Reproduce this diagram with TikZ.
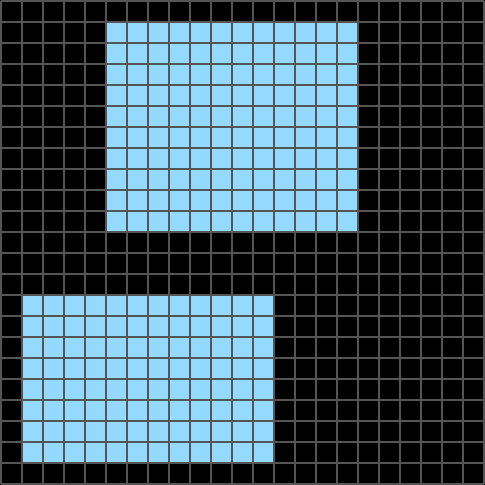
\documentclass[tikz,border=0pt]{standalone}
\usepackage{tikz}
\usepackage{xcolor}
\definecolor{cellblue}{RGB}{148,217,255}
\definecolor{gridgrey}{RGB}{85,85,85}

\begin{document}
\begin{tikzpicture}[x=1cm, y=1cm,
  gridline/.style={draw=gridgrey, line width=0.095cm},
  bluearea/.style={fill=cellblue}]
% Background
\fill[black] (-0.048,-0.048) rectangle (23.048,23.048);
\useasboundingbox (-0.048,-0.048) rectangle (23.048,23.048);

% Upper blue rectangle
\fill[bluearea] (5,12) rectangle (17,22);

% Lower blue rectangle
\fill[bluearea] (1,1) rectangle (13,9);

% Grid
\draw[gridline] (0,0) grid[step=1] (23,23);
\end{tikzpicture}
\end{document}
